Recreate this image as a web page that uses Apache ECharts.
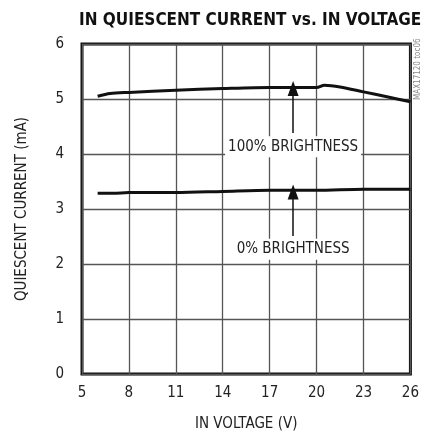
<!DOCTYPE html>
<html>
<head>
<meta charset="utf-8">
<script src="https://cdn.jsdelivr.net/npm/echarts@6/dist/echarts.min.js"></script>
<style>
  html, body { margin: 0; padding: 0; background: #fff; }
  #main { width: 422px; height: 437px; }
</style>
</head>
<body>
<div id="main"></div>
<script>
// IN voltage (V) -> quiescent current (mA)
var volt100 = [6, 6.8, 8, 11, 14, 17, 20, 20.5, 21.5, 23, 24.5, 26];
var curr100 = [5.05, 5.10, 5.12, 5.16, 5.19, 5.21, 5.21, 5.25, 5.22, 5.13, 5.04, 4.95];
var volt0 = [6, 7, 8, 11, 14, 17, 20, 23, 26];
var curr0 = [3.285, 3.285, 3.30, 3.30, 3.32, 3.34, 3.34, 3.36, 3.36];
var xTicks = [5, 8, 11, 14, 17, 20, 23, 26];
var yTicks = [0, 1, 2, 3, 4, 5, 6];

var font = '"DejaVu Sans Condensed", sans-serif';

function pairs(xs, ys) {
  var out = [];
  for (var i = 0; i < xs.length; i++) out.push([xs[i], ys[i]]);
  return out;
}

var chart = echarts.init(document.getElementById('main'));

var option = {
  animation: false,
  title: {
    text: 'IN QUIESCENT CURRENT vs. IN VOLTAGE',
    left: 74,
    top: 7,
    textStyle: { fontFamily: font, fontWeight: 'bold', fontSize: 17, color: '#111' }
  },
  grid: {
    left: 82, right: 9, top: 44, bottom: 63,
    show: true, borderColor: '#111', borderWidth: 3
  },
  xAxis: {
    type: 'value',
    min: xTicks[0], max: xTicks[xTicks.length - 1], interval: 3,
    name: 'IN VOLTAGE (V)',
    nameLocation: 'middle',
    nameGap: 43,
    nameTextStyle: { fontFamily: font, fontSize: 15, color: '#222' },
    axisLine: { show: false },
    axisTick: { show: false },
    axisLabel: { margin: 12, fontFamily: font, fontSize: 15, color: '#222' },
    splitLine: { show: true, lineStyle: { color: '#555', width: 1.3 } }
  },
  yAxis: {
    type: 'value',
    min: yTicks[0], max: yTicks[yTicks.length - 1], interval: 1,
    name: 'QUIESCENT CURRENT (mA)',
    nameLocation: 'middle',
    nameGap: 52,
    nameTextStyle: { fontFamily: font, fontSize: 15, color: '#222' },
    axisLine: { show: false },
    axisTick: { show: false },
    axisLabel: { margin: 18, fontFamily: font, fontSize: 15, color: '#222' },
    splitLine: { show: true, lineStyle: { color: '#555', width: 1.3 } }
  },
  series: [
    {
      name: '100% BRIGHTNESS',
      type: 'line',
      data: pairs(volt100, curr100),
      showSymbol: false,
      smooth: 0.3,
      lineStyle: { color: '#111', width: 3 },
      markLine: {
        silent: true,
        symbol: ['none', 'triangle'],
        symbolSize: [11, 15],
        lineStyle: { color: '#111', width: 1.5, type: 'solid' },
        label: { show: false },
        data: [[{ coord: [18.5, 4.38] }, { coord: [18.5, 5.19] }]]
      },
      markPoint: {
        silent: true,
        symbolSize: 0,
        data: [{
          coord: [18.5, 4.13],
          label: {
            show: true, position: 'inside', formatter: '100% BRIGHTNESS',
            fontFamily: font, fontSize: 15, color: '#222',
            backgroundColor: '#fff', padding: [3, 3]
          }
        }]
      }
    },
    {
      name: '0% BRIGHTNESS',
      type: 'line',
      data: pairs(volt0, curr0),
      showSymbol: false,
      smooth: 0.3,
      lineStyle: { color: '#111', width: 3 },
      markLine: {
        silent: true,
        symbol: ['none', 'triangle'],
        symbolSize: [11, 15],
        lineStyle: { color: '#111', width: 1.5, type: 'solid' },
        label: { show: false },
        data: [[{ coord: [18.5, 2.51] }, { coord: [18.5, 3.31] }]]
      },
      markPoint: {
        silent: true,
        symbolSize: 0,
        data: [{
          coord: [18.5, 2.27],
          label: {
            show: true, position: 'inside', formatter: '0% BRIGHTNESS',
            fontFamily: font, fontSize: 15, color: '#222',
            backgroundColor: '#fff', padding: [3, 3]
          }
        }]
      }
    }
  ],
  graphic: [{
    type: 'text',
    x: 414, y: 100,
    rotation: Math.PI / 2,
    style: { text: 'MAX17120 toc06', fontFamily: font, fontSize: 8, fill: '#888' }
  }]
};

chart.setOption(option);
</script>
</body>
</html>
